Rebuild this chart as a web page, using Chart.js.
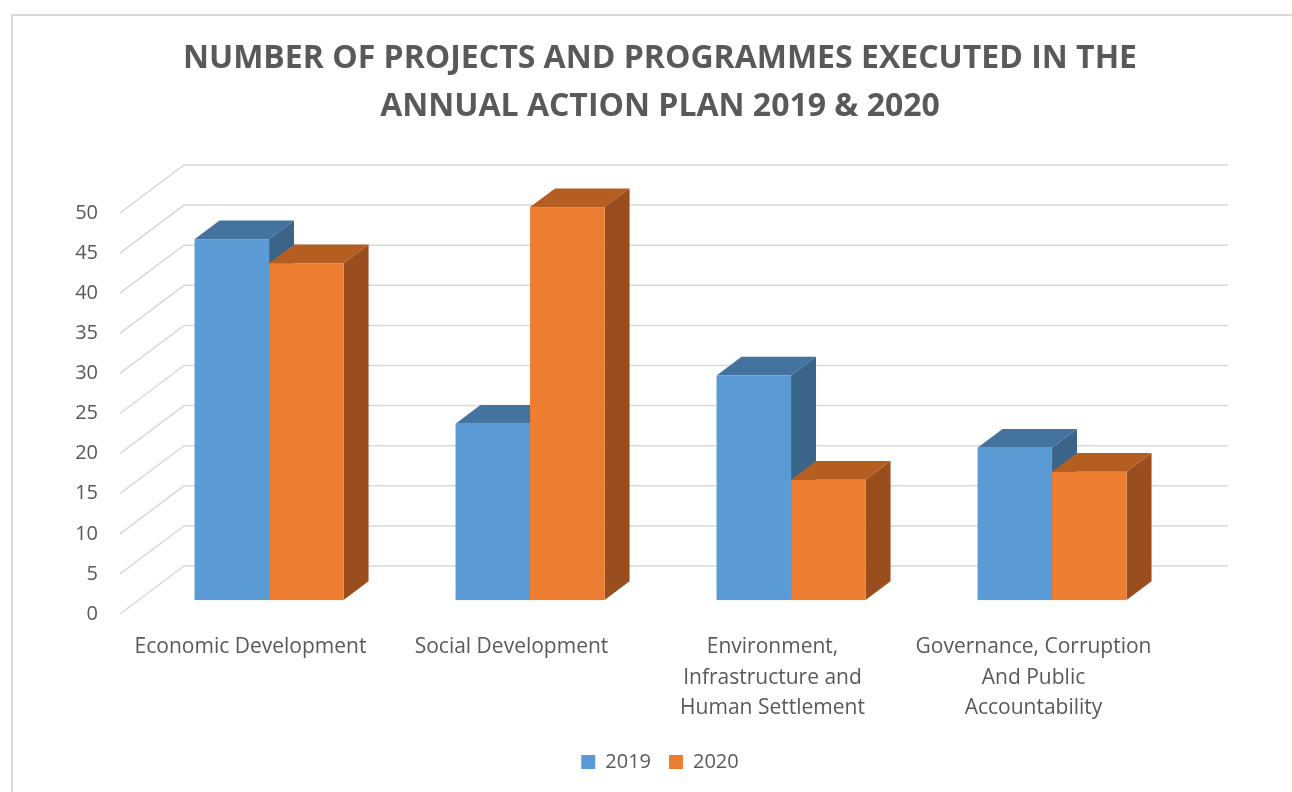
<!DOCTYPE html>
<html>
<head>
<meta charset="utf-8">
<script src="https://cdn.jsdelivr.net/npm/chart.js@4.4.1/dist/chart.umd.min.js"></script>
<style>
  html, body { margin: 0; padding: 0; background: #fff; }
  #wrap { position: relative; width: 1292px; height: 792px; }
</style>
</head>
<body>
<div id="wrap"><canvas id="plan-chart" width="1292" height="792"></canvas></div>
<script>
// categories and series
const categories = [
  ["Economic Development"],
  ["Social Development"],
  ["Environment,", "Infrastructure and", "Human Settlement"],
  ["Governance, Corruption", "And Public", "Accountability"]
];
const seriesNames = ["2019", "2020"];
const values2019 = [45, 22, 28, 19];
const values2020 = [42, 49, 15, 16];
const yMin = 0, yMax = 50, yStep = 5;

// face colours: front, top, side
const shades = [
  { front: "#5b9bd5", top: "#44739f", side: "#3a6589" },
  { front: "#ed7d31", top: "#b55e22", side: "#9a4e1d" }
];

const TEXT = "#595959";
const GRID = "#d9d9d9";
const WALL_DX = 64, WALL_DY = -48;   // oblique depth of the back wall
const BAR_FRONT = 0.29, BAR_DEPTH = 0.39;

const frame = {
  id: "frame",
  beforeDraw(chart) {
    const ctx = chart.ctx;
    ctx.save();
    ctx.fillStyle = "#fff";
    ctx.fillRect(0, 0, chart.width, chart.height);
    ctx.strokeStyle = GRID;
    ctx.lineWidth = 2;
    ctx.beginPath();
    ctx.moveTo(12, chart.height);
    ctx.lineTo(12, 15);
    ctx.lineTo(chart.width, 15);
    ctx.stroke();
    ctx.restore();
  }
};

// floor-to-wall gridlines and the extruded columns
const columns3d = {
  id: "columns3d",
  beforeDatasetsDraw(chart) {
    const ctx = chart.ctx, y = chart.scales.y, area = chart.chartArea;
    ctx.save();
    ctx.strokeStyle = GRID;
    ctx.lineWidth = 1.5;
    y.ticks.forEach(t => {
      const py = y.getPixelForValue(t.value);
      ctx.beginPath();
      ctx.moveTo(area.left, py);
      ctx.lineTo(area.left + WALL_DX, py + WALL_DY);
      ctx.lineTo(area.right + WALL_DX, py + WALL_DY);
      ctx.stroke();
    });
    ctx.restore();
  },
  beforeDatasetDraw() {
    return false;
  },
  afterDatasetsDraw(chart) {
    const ctx = chart.ctx;
    const sx = BAR_FRONT * WALL_DX, sy = BAR_FRONT * WALL_DY;
    const bx = BAR_DEPTH * WALL_DX, by = BAR_DEPTH * WALL_DY;
    const metas = chart.data.datasets.map((d, i) => chart.getDatasetMeta(i));
    ctx.save();
    for (let i = 0; i < categories.length; i++) {
      metas.forEach((meta, d) => {
        const bar = meta.data[i];
        const { x, y, base, width } = bar.getProps(["x", "y", "base", "width"], true);
        const l = x - width / 2 + sx, r = x + width / 2 + sx;
        const top = y + sy, bot = base + sy;
        const c = shades[d];

        ctx.fillStyle = c.top;
        ctx.beginPath();
        ctx.moveTo(l, top);
        ctx.lineTo(r, top);
        ctx.lineTo(r + bx, top + by);
        ctx.lineTo(l + bx, top + by);
        ctx.closePath();
        ctx.fill();

        ctx.fillStyle = c.side;
        ctx.beginPath();
        ctx.moveTo(r, top);
        ctx.lineTo(r + bx, top + by);
        ctx.lineTo(r + bx, bot + by);
        ctx.lineTo(r, bot);
        ctx.closePath();
        ctx.fill();

        ctx.fillStyle = c.front;
        ctx.fillRect(l, top, r - l, bot - top);
      });
    }
    ctx.restore();
  }
};

new Chart(document.getElementById("plan-chart"), {
  type: "bar",
  data: {
    labels: categories,
    datasets: [
      { label: seriesNames[0], data: values2019, backgroundColor: shades[0].front, borderWidth: 0 },
      { label: seriesNames[1], data: values2020, backgroundColor: shades[1].front, borderWidth: 0 }
    ]
  },
  options: {
    responsive: false,
    animation: false,
    devicePixelRatio: 1,
    layout: { padding: { left: 28, right: 0, top: 0, bottom: 10 } },
    datasets: { bar: { categoryPercentage: 0.571, barPercentage: 1 } },
    scales: {
      x: {
        grid: { display: false, drawTicks: false },
        border: { display: false },
        ticks: {
          color: TEXT,
          padding: 18,
          maxRotation: 0,
          autoSkip: false,
          font: { family: "Open Sans", size: 21, lineHeight: 1.45 }
        },
        afterFit(scale) { scale.height = 120; }
      },
      y: {
        min: yMin,
        max: yMax,
        grid: { display: false, drawTicks: false },
        border: { display: false },
        ticks: {
          stepSize: yStep,
          color: TEXT,
          padding: 22,
          font: { family: "Open Sans", size: 20 }
        },
        afterFit(scale) { scale.width = 92; }
      },
      // empty right-hand axis that leaves room for the wall depth
      depth: {
        position: "right",
        grid: { display: false, drawTicks: false },
        border: { display: false },
        ticks: { display: false },
        afterFit(scale) { scale.width = 128; }
      }
    },
    plugins: {
      title: {
        display: true,
        text: ["NUMBER OF PROJECTS AND PROGRAMMES EXECUTED IN THE", "ANNUAL ACTION PLAN 2019 & 2020"],
        color: TEXT,
        font: { family: "Open Sans", size: 32, weight: "bold", lineHeight: 1.5 },
        padding: { top: 35, bottom: 82 }
      },
      legend: {
        position: "bottom",
        labels: {
          color: TEXT,
          boxWidth: 14,
          boxHeight: 14,
          padding: 18,
          font: { family: "Open Sans", size: 20 }
        }
      },
      tooltip: { enabled: false }
    }
  },
  plugins: [frame, columns3d]
});
</script>
</body>
</html>
